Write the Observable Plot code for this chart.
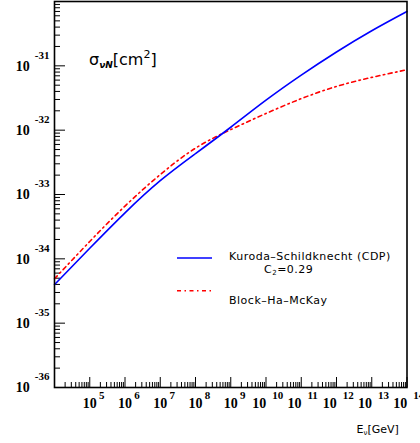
<!DOCTYPE html>
<html><head><meta charset="utf-8">
<script src="https://cdn.jsdelivr.net/npm/d3@7"></script>
<script src="https://cdn.jsdelivr.net/npm/@observablehq/plot@0.6"></script>
<style>html,body{margin:0;padding:0;background:#fff}#chart svg{display:block}</style>
</head><body><div id="chart"></div>
<script>
// Neutrino energy E_nu [GeV]
const energyGeV = [1e4, 1e5, 1e6, 1e7, 1e8, 1e9, 1e10, 1e11, 1e12, 1e13, 1e14];
// Kuroda-Schildknecht (CDP), C2 = 0.29  — sigma_nuN [cm^2]
const sigmaKS = [3.98e-35, 1.46e-34, 5.19e-34, 1.64e-33, 4.32e-33, 1.11e-32, 2.92e-32, 7.16e-32, 1.64e-31, 3.51e-31, 7.00e-31];
// Block-Ha-McKay — sigma_nuN [cm^2]
const sigmaBHM = [4.90e-35, 1.86e-34, 6.61e-34, 2.04e-33, 5.25e-33, 1.02e-32, 1.82e-32, 3.09e-32, 4.79e-32, 6.61e-32, 8.71e-32];
// tick label exponents
const xTickExponents = [5, 6, 7, 8, 9, 10, 11, 12, 13, 14];
const yTickExponents = [-36, -35, -34, -33, -32, -31];
const legendLabels = ["Kuroda\u2013Schildknecht (CDP)", "Block\u2013Ha\u2013McKay"];

const rowsKS = energyGeV.map((E, i) => ({E, sigma: sigmaKS[i]}));
const rowsBHM = energyGeV.map((E, i) => ({E, sigma: sigmaBHM[i]}));

const xMajor = xTickExponents.map(e => 10 ** e);
const xMinor = [];
for (let d = 4; d < 14; d++) for (let k = 2; k <= 9; k++) xMinor.push(k * 10 ** d);
const yMajor = yTickExponents.map(e => 10 ** e);
const yMinor = [];
for (let d = -36; d < -30; d++) for (let k = 2; k <= 9; k++) yMinor.push(k * 10 ** d);

const serif = "Liberation Serif";
const lab1 = xTickExponents.filter(e => e < 10);
const lab2 = xTickExponents.filter(e => e >= 10);

const chart = Plot.plot({
  width: 420, height: 443,
  marginLeft: 54, marginRight: 13.5, marginTop: 1, marginBottom: 56,
  style: {background: "#fff", color: "#000"},
  x: {type: "log", domain: [1e4, 1e14]},
  y: {type: "log", domain: [1e-36, 1e-30]},
  marks: [
    Plot.axisX(xMajor, {anchor: "bottom", tickSize: 10, dy: -10, tickFormat: () => "", label: null}),
    Plot.axisX(xMinor, {anchor: "bottom", tickSize: 5, dy: -5, tickFormat: () => "", label: null}),
    Plot.axisY(yMajor, {anchor: "left", tickSize: 11, dx: 11, tickFormat: () => "", label: null}),
    Plot.axisY(yMinor, {anchor: "left", tickSize: 6, dx: 6, tickFormat: () => "", label: null}),
    Plot.line(rowsBHM, {x: "E", y: "sigma", stroke: "#ff0000", strokeWidth: 1.6, strokeDasharray: "4,3.5,1.5,3.5", curve: "natural"}),
    Plot.line(rowsKS, {x: "E", y: "sigma", stroke: "#0000ff", strokeWidth: 1.6, curve: "natural"}),
    Plot.frame({stroke: "#000", strokeWidth: 1.6}),
    // x tick labels 10^n
    Plot.text(lab1, {x: e => 10 ** e, text: () => "10", frameAnchor: "bottom", dy: 20, fontFamily: serif, fontWeight: "bold", fontSize: 14, textAnchor: "middle"}),
    Plot.text(lab1, {x: e => 10 ** e, text: e => String(e), frameAnchor: "bottom", dx: 9.3, dy: 11.5, fontFamily: serif, fontWeight: "bold", fontSize: 11, textAnchor: "start"}),
    Plot.text(lab2, {x: e => 10 ** e, text: () => "10", frameAnchor: "bottom", dx: -6.7, dy: 20, fontFamily: serif, fontWeight: "bold", fontSize: 14, textAnchor: "middle"}),
    Plot.text(lab2, {x: e => 10 ** e, text: e => String(e), frameAnchor: "bottom", dx: 6.2, dy: 11.5, fontFamily: serif, fontWeight: "bold", fontSize: 11, textAnchor: "start"}),
    // y tick labels 10^n
    Plot.text(yTickExponents, {y: e => 10 ** e, text: () => "10", frameAnchor: "left", dx: -24.7, dy: 0.5, fontFamily: serif, fontWeight: "bold", fontSize: 14, textAnchor: "end"}),
    Plot.text(yTickExponents, {y: e => 10 ** e, text: e => String(e), frameAnchor: "left", dx: -19.7, dy: -10.6, fontFamily: serif, fontWeight: "bold", fontSize: 11, textAnchor: "start"})
  ]
});
document.getElementById("chart").appendChild(chart);

// Title, axis title and legend
const svg = d3.select(chart);
const sans = "DejaVu Sans";
const T = (x, y, size, ls = 0) => svg.append("text").attr("x", x).attr("y", y).attr("font-family", sans)
  .attr("font-size", size).attr("letter-spacing", ls).attr("fill", "#000").attr("text-anchor", "start");

const title = T(89, 64.5, 16);
title.append("tspan").text("\u03c3");
title.append("tspan").attr("font-size", 9).attr("font-style", "italic").attr("font-weight", "bold").attr("dy", 3.5).text("\u03bdN");
title.append("tspan").attr("dy", -3.5).text("[cm");
title.append("tspan").attr("font-size", 11).attr("dy", -7).text("2");
title.append("tspan").attr("dy", 7).text("]");

const xt = T(356.5, 433, 11);
xt.append("tspan").text("E");
xt.append("tspan").attr("font-size", 7).attr("dy", 2).text("\u03bd");
xt.append("tspan").attr("dy", -2).text("[GeV]");

svg.append("line").attr("x1", 177).attr("x2", 212).attr("y1", 258).attr("y2", 258).attr("stroke", "#0000ff").attr("stroke-width", 1.6);
svg.append("line").attr("x1", 177).attr("x2", 211).attr("y1", 290.7).attr("y2", 290.7).attr("stroke", "#ff0000").attr("stroke-width", 1.6).attr("stroke-dasharray", "4,3.5,1.5,3.5");
T(229, 259.5, 11, 0.5).text(legendLabels[0]);
const c2 = T(264, 272.5, 11, 0.5);
c2.append("tspan").text("C");
c2.append("tspan").attr("font-size", 7).attr("dy", 2).text("2");
c2.append("tspan").attr("dy", -2).text("=0.29");
T(229, 304, 11, 0.5).text(legendLabels[1]);
</script>
</body></html>
